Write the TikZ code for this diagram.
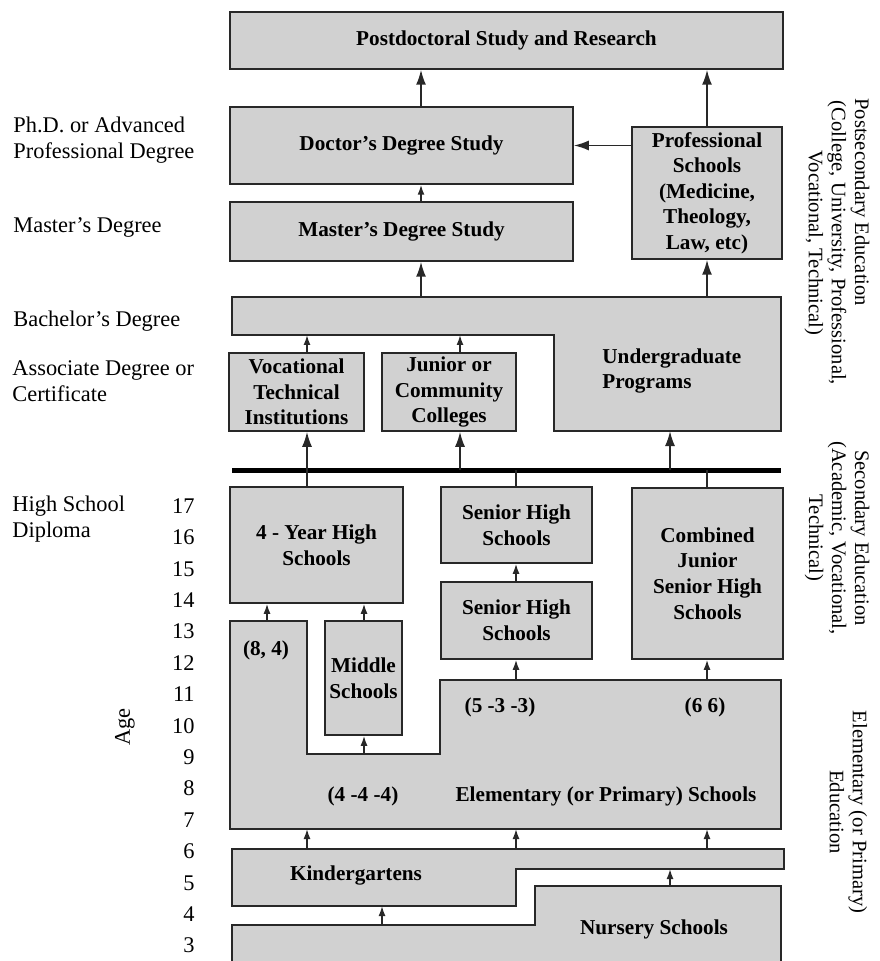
\documentclass[tikz,border=0pt]{standalone}
\usepackage{fontspec}
\setmainfont{Liberation Serif}
\usetikzlibrary{arrows.meta}
\definecolor{boxgray}{RGB}{209,209,209}
\definecolor{linegray}{RGB}{40,40,40}
\newcommand\bxfont{\fontsize{10.6}{12.8}\selectfont\bfseries}
\newcommand\sdfont{\fontsize{11.2}{13.2}\selectfont}
\newcommand\edfont{\fontsize{10.3}{11.5}\selectfont}
\tikzset{
	box/.style 2 args={draw=linegray, fill=boxgray, line width=0.75pt, inner sep=0pt, font=\bxfont, align=center,
		minimum width=#1*0.5pt, minimum height=#2*0.5pt},
	shp/.style={draw=linegray, fill=boxgray, line width=0.75pt},
	lbl/.style={inner sep=0pt, font=\bxfont, align=center},
	side/.style={inner sep=0pt, font=\sdfont, align=left, anchor=west},
	edu/.style={inner sep=0pt, font=\edfont, align=center, rotate=-90},
	arr/.style={draw=linegray, line width=0.9pt, -{Latex[length=7.5pt,width=5pt]}},
	sarr/.style={draw=linegray, line width=0.8pt, -{Latex[length=5pt,width=3.5pt]}},
	lnk/.style={draw=linegray, line width=0.8pt}
}
\begin{document}
\begin{tikzpicture}[x=0.5pt,y=-0.5pt]
	\useasboundingbox (0,0) rectangle (879,961);
	\foreach \x in {267,307,364,382,421,460,516,670,707}
		\coordinate (L\x) at (\x,0);

	\node[box={553}{57}] (postdoc) at (506.5,40.5) {Postdoctoral Study and Research};
	\node[box={343}{77}] (doctor) at (401.5,145.5) {Doctor's Degree Study};
	\node[box={343}{59}] (master) at (401.5,231.5) {Master's Degree Study};
	\node[box={150}{132}] (prof) at (707,193) {Professional\\Schools\\(Medicine,\\Theology,\\Law, etc)};
	\draw[shp] (232,297) coordinate (ug1) -- (781,297) -- (781,431) coordinate (ug3)
		-- (554,431) -- (554,335) coordinate (ug5) -- (232,335) -- cycle;
	\node[lbl, anchor=west, align=left] (ugtext) at (602,371) {Undergraduate\\Programs};
	\node[box={135}{78}] (voc) at (296.5,392) {Vocational\\Technical\\Institutions};
	\node[box={134}{78}] (junior) at (449,392) {Junior or\\Community\\Colleges};
	\draw[line width=2.5pt, draw=black] (232,470) coordinate (bar1) -- (781,470) coordinate (bar2);

	\node[box={173}{116}] (year4) at (316.5,545) {4 - Year High\\Schools};
	\node[box={151}{76}] (senior) at (516.5,525) {Senior High\\Schools};
	\node[box={151}{77}] (seniorlow) at (516.5,620.5) {Senior High\\Schools};
	\node[box={151}{171}] (combined) at (707.5,573.5) {Combined\\Junior\\Senior High\\Schools};
	\draw[shp] (230,621) coordinate (el1) -- (307,621) -- (307,754) coordinate (el3) -- (440,754)
		-- (440,680) coordinate (el5) -- (781,680) -- (781,829) coordinate (el7) -- (230,829) -- cycle;
	\node[box={77}{114}] (middle) at (363.5,678) {Middle\\Schools};
	\node[lbl] (el84) at (266,650) {(8, 4)};
	\node[lbl] (el533) at (500,707) {(5 -3 -3)};
	\node[lbl] (el66) at (705,707) {(6 6)};
	\node[lbl] (el444) at (363,796) {(4 -4 -4)};
	\node[lbl] (eltext) at (606,796) {Elementary (or Primary) Schools};

	\draw[shp] (232,849) coordinate (kg1) -- (784,849) -- (784,869) coordinate (kg3) -- (516,869)
		-- (516,906) coordinate (kg5) -- (232,906) -- cycle;
	\node[lbl] (kgtext) at (356,875) {Kindergartens};
	\draw[shp] (232,961) -- (232,925) coordinate (ns1) -- (535,925) -- (535,886) coordinate (ns2)
		-- (781,886) -- (781,961);
	\node[lbl] (nstext) at (654,929) {Nursery Schools};

	\draw[arr] (doctor.north -| L421) -- (postdoc.south -| L421);
	\draw[arr] (prof.north -| L707) -- (postdoc.south -| L707);
	\draw[arr] (prof.west |- doctor.east) -- (doctor.east);
	\draw[sarr] (master.north -| L421) -- (doctor.south -| L421);
	\draw[arr] (ug1 -| L421) -- (master.south -| L421);
	\draw[arr] (ug1 -| L707) -- (prof.south -| L707);
	\draw[sarr] (voc.north -| L307) -- (ug5 -| L307);
	\draw[sarr] (junior.north -| L460) -- (ug5 -| L460);
	\draw[arr] (bar1 -| L307) -- (voc.south -| L307);
	\draw[arr] (bar1 -| L460) -- (junior.south -| L460);
	\draw[arr] (bar1 -| L670) -- (ug3 -| L670);
	\draw[lnk] (year4.north -| L307) -- (bar1 -| L307);
	\draw[lnk] (senior.north -| L516) -- (bar1 -| L516);
	\draw[lnk] (combined.north -| L707) -- (bar1 -| L707);
	\draw[sarr] (el1 -| L267) -- (year4.south -| L267);
	\draw[sarr] (middle.north -| L364) -- (year4.south -| L364);
	\draw[sarr] (el3 -| L364) -- (middle.south -| L364);
	\draw[sarr] (seniorlow.north -| L516) -- (senior.south -| L516);
	\draw[sarr] (el5 -| L516) -- (seniorlow.south -| L516);
	\draw[sarr] (el5 -| L707) -- (combined.south -| L707);
	\foreach \x in {307,516,707}
		\draw[sarr] (kg1 -| L\x) -- (el7 -| L\x);
	\draw[sarr] (ns1 -| L382) -- (kg5 -| L382);
	\draw[sarr] (ns2 -| L670) -- (kg3 -| L670);

	\node[side] (phd) at (13,140) {Ph.D. or Advanced\\Professional Degree};
	\node[side] (masters) at (13,227) {Master's Degree};
	\node[side] (bachelor) at (13,321) {Bachelor's Degree};
	\node[side] (assoc) at (12,381) {Associate Degree or\\Certificate};
	\node[side] (diploma) at (12,519) {High School\\Diploma};
	\node[side, anchor=center, rotate=90] (age) at (125,727) {Age};
	\foreach \a in {3,...,17}
		\node[side, anchor=east] (age\a) at (195,{506+(17-\a)*31.4}) {\a};

	\node[edu, anchor=west] (postsec) at (860,98) {Postsecondary Education};
	\node[edu] (postsec2) at (825.5,243) {(College, University, Professional,\\Vocational, Technical)};
	\node[edu] (secondary) at (837,538) {Secondary Education\\(Academic, Vocational,\\Technical)};
	\node[edu] (elemedu) at (848.5,812) {Elementary (or Primary)\\Education};
\end{tikzpicture}
\end{document}
